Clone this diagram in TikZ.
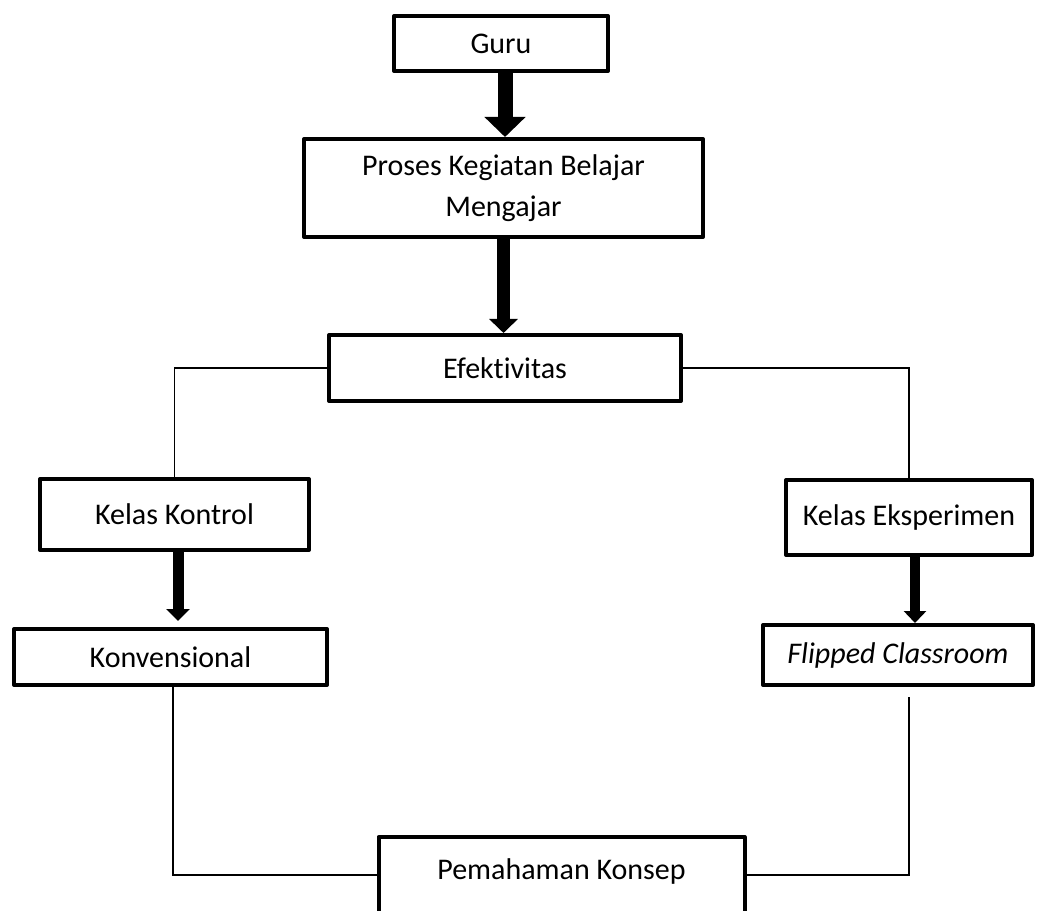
\documentclass[tikz,border=0pt]{standalone}
\usepackage{fontspec}
\setmainfont{Carlito}[Ligatures=NoCommon]
\usetikzlibrary{arrows.meta}
\tikzset{
  box/.style={draw, line width=1.6pt, line join=round, align=center, inner sep=2pt,
    font=\fontsize{12}{16.4}\selectfont},
  link/.style={line width=0.55pt},
  bigarrow/.style args={#1/#2/#3}{line width=#1, -{Triangle[width=#2,length=#3]}}
}
\begin{document}
\begin{tikzpicture}[x=0.4pt,y=-0.4pt]
\useasboundingbox (0,0) rectangle (1038,911);
\clip (0,0) rectangle (1038,911);
\node[box, minimum width=85.6pt, minimum height=22pt] (guru) at (501,43.5) {Guru};
\node[box, minimum width=159.6pt, minimum height=39.2pt] (pkbm) at (503.5,188) {Proses Kegiatan Belajar\\Mengajar};
\node[box, minimum width=140.8pt, minimum height=26.4pt] (efek) at (505,368) {Efektivitas};
\node[box, minimum width=107.6pt, minimum height=28.4pt] (kontrol) at (174.5,514.5) {Kelas Kontrol};
\node[box, minimum width=98.4pt, minimum height=30pt] (eksp) at (909,517.5) {Kelas Eksperimen};
\node[box, minimum width=125.2pt, minimum height=22.4pt] (konv) at (170.5,657) {Konvensional};
\node[box, minimum width=108pt, minimum height=24pt] (flip) at (898,655) {\textit{Flipped Classroom}};
\node[box, anchor=north, minimum width=146.4pt, text height=14.8pt, text depth=17.2pt, inner ysep=2pt] (paham) at (561.5,835) {Pemahaman Konsep};
\draw[bigarrow=6pt/16pt/8pt] ([xshift=1.6pt]guru.south) -- ([xshift=1.6pt]guru.south |- pkbm.north);
\draw[bigarrow=5.2pt/11.2pt/5.6pt] (pkbm.south) -- (pkbm.south |- efek.north);
\draw[bigarrow=4.4pt/9.2pt/4.8pt] ([xshift=1.4pt]kontrol.south) -- ([xshift=1.4pt,yshift=2.4pt]kontrol.south |- konv.north);
\draw[bigarrow=4pt/8.8pt/4.8pt] ([xshift=2.4pt]eksp.south) -- ([xshift=2.4pt]eksp.south |- flip.north);
\draw[link] (efek.west) -| (kontrol.north);
\draw[link] (efek.east) -| (eksp.north);
\draw[link] ([xshift=1pt]konv.south) |- ([yshift=1.6pt]paham.base west);
\draw[link] ([yshift=-4pt]flip.south -| eksp.south) |- ([yshift=1.6pt]paham.base east);
\end{tikzpicture}
\end{document}
